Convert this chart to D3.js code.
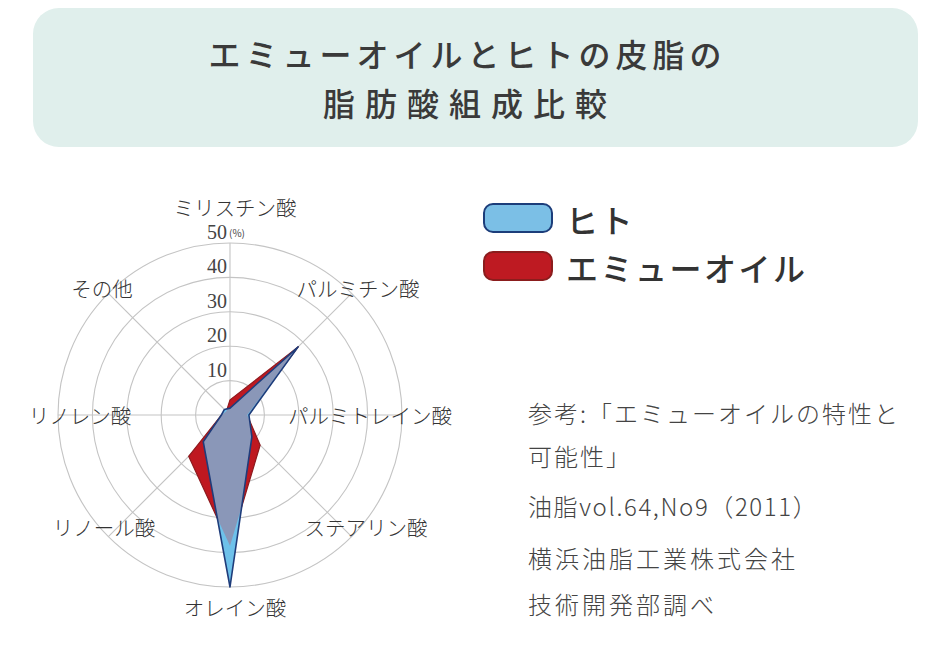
<!DOCTYPE html>
<html><head><meta charset="utf-8">
<script src="https://cdn.jsdelivr.net/npm/d3@7"></script>
<style>
html,body{margin:0;padding:0;background:#fff;}
svg{display:block;font-family:"Noto Sans CJK JP","Noto Sans",sans-serif;}
</style></head>
<body><svg id="c" width="950" height="649"></svg>
<script>
// ---- data ----
const titleLines = ["エミューオイルとヒトの皮脂の", "脂肪酸組成比較"];
const categories = ["ミリスチン酸","パルミチン酸","パルミトレイン酸","ステアリン酸","オレイン酸","リノール酸","リノレン酸","その他"];
const seriesNames = ["ヒト","エミューオイル"];
const humanValues = [2, 28, 5.5, 9, 50, 11, 2.5, 2.3];
const emuValues   = [4.4, 28, 5, 12.4, 38, 17, 2.5, 1.5];
const tickValues = [10, 20, 30, 40, 50];
const tickUnit = "(%)";
const notes = ["参考:「エミューオイルの特性と","可能性」","油脂vol.64,No9（2011）","横浜油脂工業株式会社","技術開発部調べ"];

// ---- layout ----
const svg = d3.select("#c");
const cx = 230, cy = 415;
const r = d3.scaleLinear().domain([0, 50]).range([0, 172]);
const n = categories.length;
const ang = d3.scaleLinear().domain([0, n]).range([0, 2 * Math.PI]);
const pt = (i, v) => [cx + r(v) * Math.sin(ang(i)), cy - r(v) * Math.cos(ang(i))];

// title box
svg.append("rect").attr("x", 33).attr("y", 8).attr("width", 885).attr("height", 139)
  .attr("rx", 26).attr("fill", "#e0efec");
const titleSpacing = [5, 10];
const titleY = [53, 102];
titleLines.forEach((t, i) => {
  svg.append("text").attr("x", 465 + titleSpacing[i] / 2).attr("y", titleY[i])
    .attr("text-anchor", "middle").attr("dominant-baseline", "central")
    .attr("font-size", 32).attr("font-weight", 500).attr("letter-spacing", titleSpacing[i])
    .attr("fill", "#3a3a3a").text(t);
});

// grid
const g = svg.append("g");
g.selectAll("circle.grid").data(tickValues).join("circle")
  .attr("cx", cx).attr("cy", cy).attr("r", d => r(d))
  .attr("fill", "none").attr("stroke", "#c4c4c4").attr("stroke-width", 1.1);
g.selectAll("line.spoke").data(categories).join("line")
  .attr("x1", cx).attr("y1", cy)
  .attr("x2", (d, i) => pt(i, 50)[0]).attr("y2", (d, i) => pt(i, 50)[1])
  .attr("stroke", "#c4c4c4").attr("stroke-width", 1.1);

// areas
const line = d3.line().curve(d3.curveLinearClosed);
const humanPts = humanValues.map((v, i) => pt(i, v));
const emuPts = emuValues.map((v, i) => pt(i, v));

const defs = svg.append("defs");
defs.append("clipPath").attr("id", "humanClip").append("path").attr("d", line(humanPts));

svg.append("path").attr("d", line(emuPts)).attr("fill", "#bf1820")
  .attr("stroke", "#8e1a1e").attr("stroke-width", 1.2).attr("stroke-linejoin", "round");
svg.append("path").attr("d", line(humanPts)).attr("fill", "#6ec1ea");
svg.append("path").attr("d", line(emuPts)).attr("fill", "#8a97b8")
  .attr("clip-path", "url(#humanClip)");
svg.append("path").attr("d", line(humanPts)).attr("fill", "none")
  .attr("stroke", "#1f3c7a").attr("stroke-width", 1.6).attr("stroke-linejoin", "round");

// tick labels
svg.selectAll("text.tick").data(tickValues).join("text")
  .attr("x", cx - 3).attr("y", d => cy - r(d) - 4)
  .attr("text-anchor", "end").attr("font-family", "Liberation Serif, DejaVu Serif, serif")
  .attr("font-size", 20).attr("fill", "#444").text(d => d);
svg.append("text").attr("x", cx - 1).attr("y", cy - r(50) - 6)
  .attr("font-size", 10).attr("fill", "#444").text(tickUnit);

// category labels (offsets from center, text layout only)
const labelOffsets = [[5, -208], [128, -127], [140, 0], [136, 112], [5, 192], [-126, 112], [-150, 0], [-128, -127]];
svg.selectAll("text.cat").data(categories).join("text")
  .attr("x", (d, i) => cx + labelOffsets[i][0]).attr("y", (d, i) => cy + labelOffsets[i][1])
  .attr("text-anchor", "middle").attr("dominant-baseline", "central")
  .attr("font-size", 20.5).attr("font-weight", 300).attr("fill", "#333").text(d => d);

// legend
const legColors = [["#7bbfe6", "#1c3d7a"], ["#be1a22", "#8b1d1d"]];
const legY = [218, 266];
seriesNames.forEach((s, i) => {
  svg.append("rect").attr("x", 484).attr("y", legY[i] - 14).attr("width", 68).attr("height", 28)
    .attr("rx", 9).attr("fill", legColors[i][0]).attr("stroke", legColors[i][1]).attr("stroke-width", 2);
  svg.append("text").attr("x", 566).attr("y", legY[i] + 1).attr("dominant-baseline", "central")
    .attr("font-size", 32).attr("font-weight", 500).attr("letter-spacing", 2.5)
    .attr("fill", "#333").text(s);
});

// notes
const noteY = [412, 455, 505, 557, 603];
const noteSpacing = [2, 2, 1.6, 3, 3];
notes.forEach((t, i) => {
  svg.append("text").attr("x", 528).attr("y", noteY[i]).attr("dominant-baseline", "central")
    .attr("font-size", 24).attr("font-weight", 300).attr("letter-spacing", noteSpacing[i])
    .attr("fill", "#444").text(t);
});
</script></body></html>
